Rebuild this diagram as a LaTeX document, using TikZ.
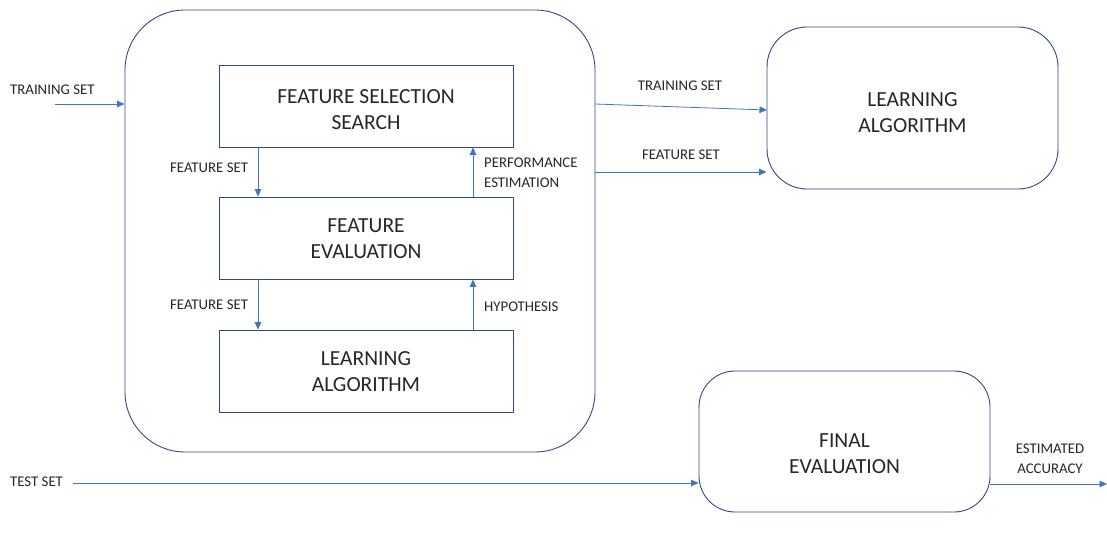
\documentclass[tikz,border=0pt]{standalone}
\usepackage{fontspec}
\setmainfont{Carlito}
\usetikzlibrary{arrows.meta}
\definecolor{boxc}{HTML}{2F4B80}
\definecolor{arrc}{HTML}{4472C4}
\begin{document}
\begin{tikzpicture}[x=1pt,y=-1pt,
  boxs/.style={draw=boxc,line width=0.9pt,minimum width=294pt,minimum height=82pt,inner sep=0pt},
  rbox/.style={draw=boxc,line width=0.9pt,inner sep=0pt},
  btxt/.style={align=center,font=\fontsize{21.5}{26}\selectfont,inner sep=0pt,text=black!85},
  lab/.style={font=\fontsize{14.8}{20}\selectfont,align=left,inner sep=0pt,text=black!85},
  arr/.style={draw=arrc,line width=0.8pt,-{Triangle[length=7.5pt,width=6.5pt]}}]
\useasboundingbox (0,0) rectangle (1107,535);
\node[rbox,rounded corners=60pt,minimum width=470pt,minimum height=442pt] (outer) at (360,231) {};
\node[boxs] (fss) at (366,106) {};
\node[boxs] (fe) at (366,238) {};
\node[boxs] (la) at (366,371) {};
\node[rbox,rounded corners=40pt,minimum width=291pt,minimum height=162pt] (la2) at (912.5,108) {};
\node[rbox,rounded corners=36pt,minimum width=291pt,minimum height=141pt] (fin) at (844.5,441.5) {};
\node[btxt] (fsst) at (366,110) {FEATURE SELECTION\\SEARCH};
\node[btxt] (fet) at (366,239) {FEATURE\\EVALUATION};
\node[btxt] (lat) at (366,371.5) {LEARNING\\ALGORITHM};
\node[btxt] (la2t) at (912.5,112.5) {LEARNING\\ALGORITHM};
\node[btxt] (fint) at (844.5,454) {FINAL\\EVALUATION};
% labels
\node[lab,anchor=west] (ltr) at (10,90) {TRAINING SET};
\coordinate (ctr) at (55,104);
\draw[arr] (ctr) -- (ctr -| outer.west);
\node[lab,anchor=west] (lfs1) at (170,168) {FEATURE SET};
\node[lab,anchor=west] (lpe) at (484,173) {PERFORMANCE\\ESTIMATION};
\node[lab,anchor=west] (lfs2) at (170,305) {FEATURE SET};
\node[lab,anchor=west] (lhy) at (484,307) {HYPOTHESIS};
\draw[arr] ([xshift=-108pt]fss.south) -- ([xshift=-108pt]fe.north);
\draw[arr] ([xshift=107pt]fe.north) -- ([xshift=107pt]fss.south);
\draw[arr] ([xshift=-108pt]fe.south) -- ([xshift=-108pt]la.north);
\draw[arr] ([xshift=107pt]la.north) -- ([xshift=107pt]fe.south);
\node[lab] (ltr2) at (680,86) {TRAINING SET};
\node[lab] (lfs3) at (681,155) {FEATURE SET};
\coordinate (a1) at (595,104);
\coordinate (a2) at (767,110);
\draw[arr] (a1) -- (a2);
\coordinate (b1) at (595,172);
\draw[arr] (b1) -- (b1 -| la2.west);
\node[lab,anchor=west] (lts) at (10,482) {TEST SET};
\coordinate (t1) at (73,483);
\draw[arr] (t1) -- (t1 -| fin.west);
\node[lab,align=center] (lea) at (1050,459) {ESTIMATED\\ACCURACY};
\coordinate (e1) at (1107,484);
\draw[arr] (e1 -| fin.east) -- (e1);
\end{tikzpicture}
\end{document}
